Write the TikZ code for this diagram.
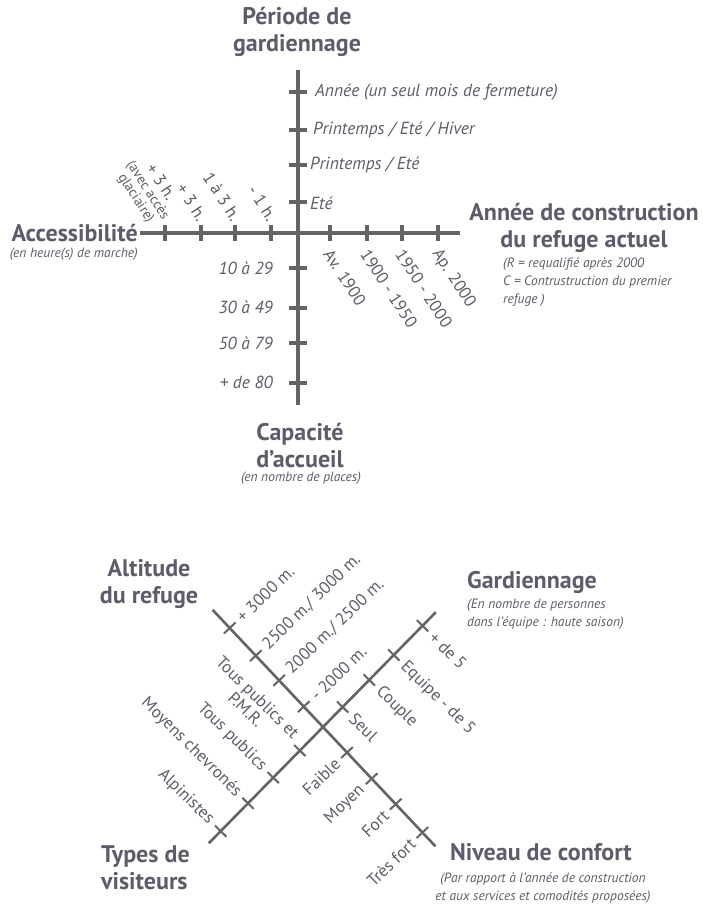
\documentclass[tikz,border=0pt]{standalone}
\usepackage{fontspec}
\setmainfont{PT Sans}
\usepackage{tikz}
\usetikzlibrary{calc}
\definecolor{axisgray}{RGB}{100,100,104}
\definecolor{textgray}{RGB}{92,92,106}

\begin{document}
\begin{tikzpicture}[x=1pt, y=-1pt,
  axis/.style={draw=axisgray, line width=4.5pt},
  tickmark/.style={draw=axisgray, line width=3.5pt},
  thinaxis/.style={draw=axisgray, line width=2.6pt},
  thintick/.style={draw=axisgray, line width=2pt},
  title/.style={text=textgray, font=\bfseries\fontsize{24}{27}\selectfont, align=center, inner sep=0pt},
  note/.style={text=textgray, font=\itshape\fontsize{13.5}{18}\selectfont, inner sep=0pt},
  vlabel/.style={text=textgray, font=\itshape\fontsize{17.5}{20}\selectfont, inner sep=0pt},
  rlabel/.style={text=textgray, font=\fontsize{17}{17}\selectfont, inner sep=1pt, align=center},
]
\useasboundingbox (0,0) rectangle (703,904);

% Upper chart
\coordinate (acc) at (140,233);
\coordinate (annee) at (460,233);
\coordinate (periode) at (298,70);
\coordinate (capacite) at (298,405);
\draw[axis] (acc) -- (annee);
\draw[axis] (periode) -- (capacite);
\foreach \x in {165,201,235,271,330,367,402,438}
  \draw[tickmark] (\x,225) -- (\x,241);
\foreach \y in {92,130,165,202,268,308,343,383}
  \draw[tickmark] (289,\y) -- (307,\y);

% Top
\node[title] (periodetitle) at (297,32) {Période de\\gardiennage};
\node[vlabel, anchor=west] (p4) at (315,92) {Année (un seul mois de fermeture)};
\node[vlabel, anchor=west] (p3) at (313,130) {Printemps / Eté / Hiver};
\node[vlabel, anchor=west] (p2) at (310,165) {Printemps / Eté};
\node[vlabel, anchor=west] (p1) at (310,203) {Eté};
% Bottom
\foreach \y/\t [count=\i] in {268/{10 à 29}, 307/{30 à 49}, 343/{50 à 79}, 382/{+ de 80}}
  \node[vlabel, anchor=east] (c\i) at (273,\y) {\t};
\node[title] (capacitetitle) at (300,446) {Capacité\\d’accueil};
\node[note] (capacitenote) at (301,478) {(en nombre de places)};
% Left
\node[title, anchor=east] (acctitle) at (138,233) {Accessibilité};
\node[note, anchor=east] (accnote) at (138,254) {(en heure(s) de marche)};
\node[rlabel, anchor=east, rotate=-57, font=\fontsize{14}{14}\selectfont] (a4) at (167,219)
  {{\fontsize{17}{17}\selectfont + 3 h.}\\(avec accès\\glaciaire)};
\foreach \x/\t [count=\i] in {201/{+ 3 h.}, 235/{1 à 3 h.}, 271/{- 1 h.}}
  \node[rlabel, anchor=east, rotate=-57] (a\i) at (\x+2,220) {\t};
% Right
\foreach \x/\t [count=\i] in {330/{Av. 1900}, 367/{1900 - 1950}, 402/{1950 - 2000}, 438/{Ap. 2000}}
  \node[rlabel, anchor=west, rotate=-57] (y\i) at (\x-3,250) {\t};
\node[title] (anneetitle) at (584,228) {Année de construction\\du refuge actuel};
\node[note, anchor=north west, align=left] (anneenote) at (503,258)
  {(R = requalifié après 2000\\C = Contrustruction du premier\\refuge )};

% Lower chart
\coordinate (C) at (323,727);
% Altitude / Niveau de confort
\begin{scope}[shift={(C)}, rotate=-46.7]
  \coordinate (altitude) at (-161,0);
  \coordinate (confort) at (164,0);
  \draw[thinaxis] (altitude) -- (confort);
  \foreach \d in {-136,-98,-64,-28,35,71,106,145}
    \draw[thintick] (\d,-8) -- (\d,8);
  \foreach \d/\t [count=\i] in {-136/{+ 3000 m.}, -98/{2500 m./ 3000 m.}, -64/{2000 m./ 2500 m.}, -28/{- 2000 m.}}
    \node[rlabel, anchor=west, rotate=44] (h\i) at (\d,-12) {\t};
  \foreach \d/\t [count=\i] in {35/Faible, 71/Moyen, 106/Fort, 145/{Très fort}}
    \node[rlabel, anchor=east, rotate=44] (n\i) at (\d,12) {\t};
\end{scope}
% Types de visiteurs / Gardiennage
\begin{scope}[shift={(C)}, rotate=45.5]
  \coordinate (types) at (-163,0);
  \coordinate (garde) at (161,0);
  \draw[thinaxis] (types) -- (garde);
  \foreach \d in {-146,-107,-71,-33,28,66,101,142}
    \draw[thintick] (\d,-8) -- (\d,8);
  \foreach \d/\t [count=\i] in {28/Seul, 66/Couple, 101/{Equipe - de 5}, 142/{+ de 5}}
    \node[rlabel, anchor=west, rotate=-44.5] (g\i) at (\d,12) {\t};
  \foreach \d/\t [count=\i] in {-33/{Tous publics et\\P.M.R.}, -71/{Tous publics}, -107/{Moyens chevronés}, -146/Alpinistes}
    \node[rlabel, anchor=east, rotate=-44.5] (t\i) at (\d,-12) {\t};
\end{scope}

\node[title] (alttitle) at (149,584) {Altitude\\du refuge};
\node[title, anchor=west] (gardtitle) at (467,582) {Gardiennage};
\node[note, anchor=north west, align=left] (gardnote) at (467,599)
  {(En nombre de personnes\\dans l'équipe : haute saison)};
\node[title, anchor=west, align=left] (typestitle) at (101,868) {Types de\\visiteurs};
\node[title] (conforttitle) at (541,852) {Niveau de confort};
\node[note, align=center] (confortnote) at (543,888)
  {(Par rapport à l'année de construction\\et aux services et  comodités proposées)};

\end{tikzpicture}
\end{document}
